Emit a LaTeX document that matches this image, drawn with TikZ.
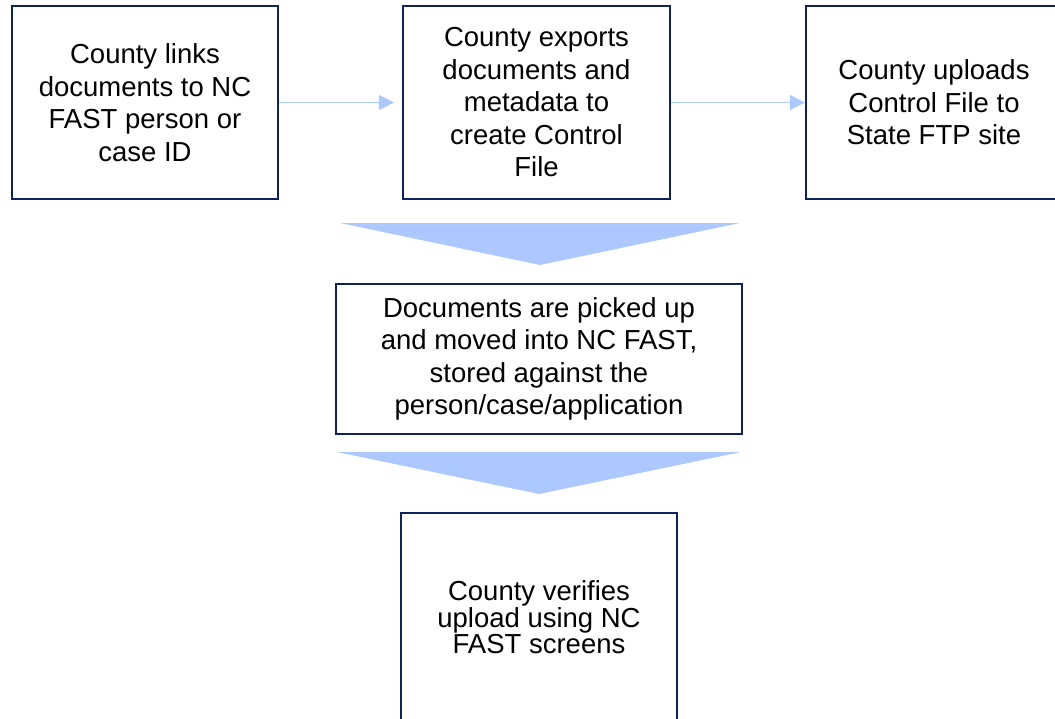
\documentclass[tikz,border=0pt]{standalone}
\usepackage{fontspec}
\setmainfont{Liberation Sans}
\usetikzlibrary{arrows.meta}
\definecolor{navy}{RGB}{14,34,98}
\definecolor{lblue}{RGB}{172,200,255}
\tikzset{
  box/.style={draw=navy, line width=2.2pt, fill=white, inner sep=0pt, align=center,
    font=\fontsize{27.5}{32.5}\selectfont},
  tightbox/.style={box, font=\fontsize{27.5}{26.5}\selectfont},
  harrow/.style={draw=lblue, line width=1.6pt, -{Triangle[length=15pt,width=15pt]}},
  chev/.style={fill=lblue}
}
\begin{document}
\begin{tikzpicture}[x=1pt,y=-1pt]
\useasboundingbox (0,0) rectangle (1055,718);
\clip (0,0) rectangle (1055,718);
\node[box, minimum width=266pt, minimum height=193pt] (b1) at (145,102.5)
  {County links\\documents to NC\\FAST person or\\case ID};
\node[box, minimum width=267pt, minimum height=193pt] (b2) at (536.5,102.5)
  {County exports\\documents and\\metadata to\\create Control\\File};
\node[box, minimum width=256pt, minimum height=193pt] (b3) at (934,102.5)
  {County uploads\\Control File to\\State FTP site};
\node[box, minimum width=406pt, minimum height=150pt] (b4) at (539,359)
  {Documents are picked up\\and moved into NC FAST,\\stored against the\\person/case/application};
\node[tightbox, minimum width=276pt, minimum height=209pt] (b5) at (539,617.5)
  {County verifies\\upload using NC\\FAST screens};
\draw[harrow, shorten >=8pt] (b1.east) -- (b2.west);
\draw[harrow] (b2.east) -- (b3.west);
\coordinate (c1l) at (340,223);
\coordinate (c1r) at (740,223);
\coordinate (c1t) at (540,265);
\fill[chev] (c1l) -- (c1r) -- (c1t) -- cycle;
\coordinate (c2l) at (337,452);
\coordinate (c2r) at (741,452);
\coordinate (c2t) at (539,494);
\fill[chev] (c2l) -- (c2r) -- (c2t) -- cycle;
\end{tikzpicture}
\end{document}
